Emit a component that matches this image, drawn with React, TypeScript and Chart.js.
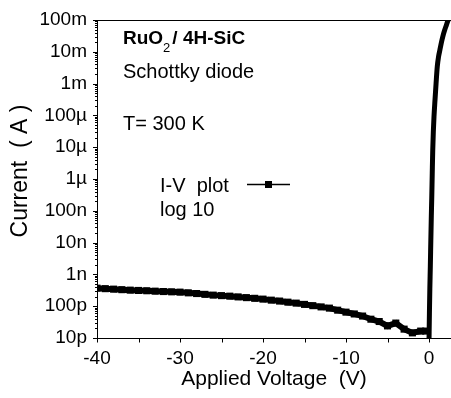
import React, { useEffect, useRef } from "react";
import { Chart, registerables } from "chart.js";

Chart.register(...registerables);

// Reverse-bias branch (V, A)
const reverseVoltage = [
  -40, -39, -38, -37, -36, -35, -34, -33, -32, -31, -30, -29, -28, -27, -26, -25,
  -24, -23, -22, -21, -20, -19, -18, -17, -16, -15, -14, -13, -12, -11, -10, -9,
  -8, -7, -6, -5, -4, -3, -2, -1, -0.4,
];
const reverseCurrent = [
  3.69e-10, 3.56e-10, 3.44e-10, 3.31e-10, 3.2e-10, 3.13e-10, 3.06e-10, 2.97e-10,
  2.89e-10, 2.83e-10, 2.77e-10, 2.63e-10, 2.5e-10, 2.36e-10, 2.23e-10, 2.15e-10,
  2.07e-10, 1.96e-10, 1.86e-10, 1.77e-10, 1.67e-10, 1.55e-10, 1.45e-10, 1.34e-10,
  1.25e-10, 1.14e-10, 1.04e-10, 9.5e-11, 8.7e-11, 7.5e-11, 6.5e-11, 5.7e-11,
  4.9e-11, 3.9e-11, 3.3e-11, 2.4e-11, 2.95e-11, 1.9e-11, 1.45e-11, 1.65e-11, 1.65e-11,
];

// Forward-bias branch (V, A)
const forwardVoltage = [
  0.0, 0.05, 0.1, 0.16, 0.22, 0.28, 0.33, 0.39, 0.45, 0.52, 0.6, 0.72, 0.85, 1.0,
  1.15, 1.3, 1.5, 1.7, 1.9, 2.1, 2.3, 2.5,
];
const forwardCurrent = [
  8e-12, 6e-11, 3.5e-10, 1.8e-9, 1.2e-8, 7e-8, 2.5e-7, 1.5e-6, 8e-6, 3e-5, 9e-5,
  3e-4, 1e-3, 3.5e-3, 7e-3, 1.1e-2, 2e-2, 3.3e-2, 4.9e-2, 7e-2, 1e-1, 1.3e-1,
];

const yTickValues = [1e-11, 1e-10, 1e-9, 1e-8, 1e-7, 1e-6, 1e-5, 1e-4, 1e-3, 1e-2, 1e-1];
const yTickLabels = ["10p", "100p", "1n", "10n", "100n", "1µ", "10µ", "100µ", "1m", "10m", "100m"];
const xTickValues = [-40, -30, -20, -10, 0];
const xMinorTickValues = [-35, -25, -15, -5];

const xTitle = "Applied Voltage  (V)";
const yTitle = "Current  ( A )";
const legendLabel = "I-V  plot";
const legendSub = "log 10";
const noteMaterial = ["RuO", "2", "/ 4H-SiC"];
const noteDevice = "Schottky diode";
const noteTemp = "T= 300 K";

const FONT = "Arial, 'Liberation Sans', Helvetica, sans-serif";

const decorPlugin = {
  id: "decor",
  afterDraw(chart: any) {
    const { ctx, chartArea, scales } = chart;
    const xs = scales.x;
    const ys = scales.y;
    const L = chartArea.left;
    const B = chartArea.bottom;
    ctx.save();
    ctx.strokeStyle = "#000";
    ctx.lineWidth = 1;
    const seg = (x1: number, y1: number, x2: number, y2: number) => {
      ctx.beginPath();
      ctx.moveTo(x1, y1);
      ctx.lineTo(x2, y2);
      ctx.stroke();
    };
    // top frame line
    seg(L, Math.round(chartArea.top) + 0.5, chartArea.right, Math.round(chartArea.top) + 0.5);
    // y ticks (major + minor)
    for (let e = -11; e <= -1; e++) {
      for (let k = 1; k <= 9; k++) {
        const v = k * Math.pow(10, e);
        if (v > 0.10001) break;
        const py = Math.round(ys.getPixelForValue(v)) + 0.5;
        const len = k === 1 ? 4 : 2;
        seg(Math.round(L) - len, py, Math.round(L) + 0.5, py);
      }
    }
    // x ticks
    const bx = Math.round(B) + 0.5;
    [...xTickValues, ...xMinorTickValues].forEach((v) => {
      const px = Math.round(xs.getPixelForValue(v)) + 0.5;
      seg(px, bx, px, bx + 4);
    });

    // y axis title (drawn rotated)
    ctx.fillStyle = "#000";
    ctx.save();
    ctx.translate(21, 171);
    ctx.rotate(-Math.PI / 2);
    ctx.font = `23px ${FONT}`;
    ctx.textAlign = "center";
    ctx.textBaseline = "middle";
    ctx.fillText(yTitle, 0, 0);
    ctx.restore();

    // annotations
    ctx.textBaseline = "alphabetic";
    ctx.textAlign = "left";
    let tx = 123;
    ctx.font = `bold 19px ${FONT}`;
    ctx.fillText(noteMaterial[0], tx, 44);
    tx += ctx.measureText(noteMaterial[0]).width;
    ctx.font = `13px ${FONT}`;
    ctx.fillText(noteMaterial[1], tx, 52);
    tx += ctx.measureText(noteMaterial[1]).width + 2;
    ctx.font = `bold 19px ${FONT}`;
    ctx.fillText(noteMaterial[2], tx, 44);

    ctx.font = `20px ${FONT}`;
    ctx.fillText(noteDevice, 123, 78);
    ctx.fillText(noteTemp, 123, 130);
    ctx.fillText(legendLabel, 160, 192);
    ctx.fillText(legendSub, 160, 216);

    // legend symbol
    ctx.lineWidth = 1.5;
    seg(247, 184.5, 290, 184.5);
    ctx.fillRect(265, 181, 7, 7);
    ctx.restore();
  },
};

export default function App() {
  const canvasRef = useRef<HTMLCanvasElement | null>(null);

  useEffect(() => {
    document.body.style.margin = "0";
    const canvas = canvasRef.current;
    if (!canvas) return;
    const chart = new Chart(canvas, {
      type: "line",
      data: {
        datasets: [
          {
            data: reverseVoltage.map((v, i) => ({ x: v, y: reverseCurrent[i] })),
            borderColor: "#000",
            backgroundColor: "#000",
            borderWidth: 6,
            pointStyle: "rect",
            pointRadius: 5,
            pointBorderWidth: 0,
            pointBackgroundColor: "#000",
            fill: false,
          },
          {
            data: forwardVoltage.map((v, i) => ({ x: v, y: forwardCurrent[i] })),
            borderColor: "#000",
            borderWidth: 5,
            pointRadius: 0,
            cubicInterpolationMode: "monotone",
            fill: false,
          },
        ],
      },
      options: {
        responsive: false,
        animation: false,
        devicePixelRatio: 1,
        layout: { autoPadding: false, padding: { top: 20, right: 0, left: 0, bottom: 0 } },
        plugins: {
          legend: { display: false },
          tooltip: { enabled: false },
          title: { display: false },
        },
        scales: {
          x: {
            type: "linear",
            min: -40,
            max: 2.65,
            afterFit: (s: any) => {
              s.height = 60;
              s.paddingLeft = 0;
              s.paddingRight = 0;
            },
            afterBuildTicks: (s: any) => {
              s.ticks = xTickValues.map((v) => ({ value: v }));
            },
            grid: { display: true, drawOnChartArea: false, drawTicks: false },
            border: { display: true, color: "#000", width: 1 },
            ticks: {
              color: "#000",
              padding: 9,
              maxRotation: 0,
              autoSkip: false,
              font: { family: FONT, size: 19 },
              callback: (v: any) => String(v),
            },
            title: {
              display: true,
              text: xTitle,
              color: "#000",
              font: { family: FONT, size: 21 },
              padding: { top: 0, bottom: 6 },
            },
          },
          y: {
            type: "logarithmic",
            min: 1e-11,
            max: 1e-1,
            afterFit: (s: any) => {
              s.width = 97;
              s.paddingTop = 0;
              s.paddingBottom = 0;
            },
            afterBuildTicks: (s: any) => {
              s.ticks = yTickValues.map((v) => ({ value: v }));
            },
            grid: { display: true, drawOnChartArea: false, drawTicks: false },
            border: { display: true, color: "#000", width: 1 },
            ticks: {
              color: "#000",
              padding: 10,
              autoSkip: false,
              font: { family: FONT, size: 19 },
              callback: (v: any) => {
                const idx = yTickValues.findIndex(
                  (t) => Math.abs(Math.log10(t) - Math.log10(Number(v))) < 1e-6
                );
                return idx >= 0 ? yTickLabels[idx] : "";
              },
            },
            title: { display: false },
          },
        },
      },
      plugins: [decorPlugin],
    } as any);
    return () => chart.destroy();
  }, []);

  return (
    <div style={{ width: 451, height: 398 }}>
      <canvas ref={canvasRef} width={451} height={398} style={{ display: "block" }} />
    </div>
  );
}
